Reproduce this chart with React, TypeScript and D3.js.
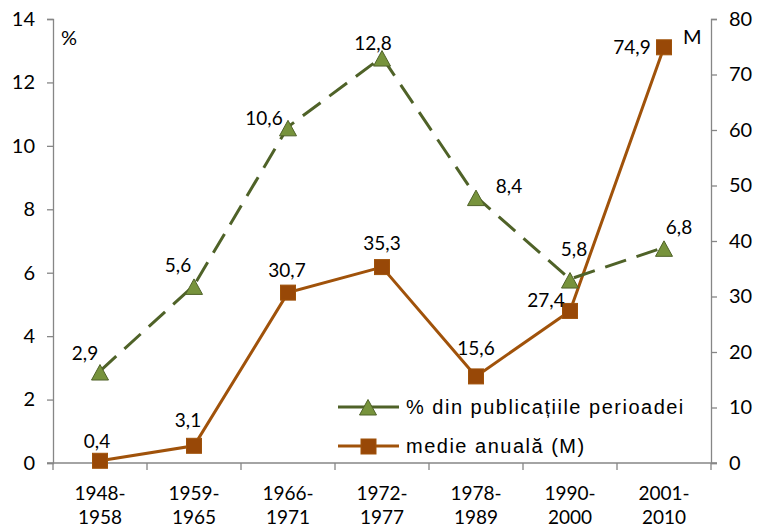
import React, { useEffect, useRef } from 'react';
import * as d3 from 'd3';

const periods = ['1948-1958', '1959-1965', '1966-1971', '1972-1977', '1978-1989', '1990-2000', '2001-2010'];
const percentValues = [2.9, 5.6, 10.6, 12.8, 8.4, 5.8, 6.8];
const annualValues = [0.4, 3.1, 30.7, 35.3, 15.6, 27.4, 74.9];
const leftTicks = [0, 2, 4, 6, 8, 10, 12, 14];
const rightTicks = [0, 10, 20, 30, 40, 50, 60, 70, 80];
const legendLabels = ['% din publicațiile perioadei', 'medie anuală  (M)'];

// label centre offsets relative to the marker [dx, dy]
const percentLabelPos: [number, number][] = [
  [-15, -18], [-16, -20], [-24, -8], [-9, -14], [33, -10], [4, -30], [15, -20],
];
const annualLabelPos: [number, number][] = [
  [-3, -19], [-6, -25], [-1, -22], [0, -24], [0, -28], [-24, -11], [-32, 0],
];

const GREEN_LINE = '#4F6228';
const GREEN_FILL = '#77933C';
const BROWN = '#A0520A';
const BROWN_FILL = '#984807';
const AXIS = '#868686';
const FONT = 'Lato, "Open Sans", sans-serif';

// triangle marker, roughly centred on its box
const TRI = 'M0,-7.5L8.5,8L-8.5,8Z';

const App: React.FC = () => {
  const svgRef = useRef<SVGSVGElement>(null);

  useEffect(() => {
    if (!svgRef.current) return;
    const svg = d3.select(svgRef.current);
    svg.selectAll('*').remove();

    const left = 53, right = 711, top = 19, bottom = 463;

    const x = d3.scaleBand().domain(periods).range([left, right]).padding(0);
    const yL = d3.scaleLinear().domain([0, 14]).range([bottom, top]);
    const yR = d3.scaleLinear().domain([0, 80]).range([bottom, top]);
    const cx = (i: number) => x(periods[i])! + x.bandwidth() / 2;

    // Left axis
    const gL = svg.append('g').attr('transform', `translate(${left},0)`)
      .call(d3.axisLeft(yL).tickValues(leftTicks).tickSize(6).tickSizeOuter(6).tickPadding(12).tickFormat(d => `${d}`));
    gL.selectAll('path,line').attr('stroke', AXIS).attr('stroke-width', 1.3);
    gL.selectAll('text').style('font-size', '20px').style('font-family', FONT).attr('fill', '#000');

    // Right axis
    const gR = svg.append('g').attr('transform', `translate(${right},0)`)
      .call(d3.axisRight(yR).tickValues(rightTicks).tickSize(6).tickSizeOuter(6).tickPadding(12));
    gR.selectAll('path,line').attr('stroke', AXIS).attr('stroke-width', 1.3);
    gR.selectAll('text').style('font-size', '20px').style('font-family', FONT).attr('fill', '#000');

    // Bottom axis with ticks at band boundaries
    svg.append('line').attr('x1', left - 6).attr('x2', right + 6).attr('y1', bottom).attr('y2', bottom)
      .attr('stroke', AXIS).attr('stroke-width', 1.3);
    const bounds = periods.map(p => x(p)!).concat([right]);
    svg.selectAll('.xtick').data(bounds).enter().append('line')
      .attr('x1', d => d).attr('x2', d => d).attr('y1', bottom).attr('y2', bottom + 7)
      .attr('stroke', AXIS).attr('stroke-width', 1.3);
    const xl = svg.selectAll('.xlab').data(periods).enter().append('text')
      .attr('x', (d, i) => cx(i)).attr('text-anchor', 'middle')
      .style('font-size', '19px').style('font-family', FONT).attr('fill', '#000');
    xl.append('tspan').attr('x', (d, i) => cx(i)).attr('y', 500).text(d => d.split('-')[0] + '-');
    xl.append('tspan').attr('x', (d, i) => cx(i)).attr('y', 524).text(d => d.split('-')[1]);

    // Axis unit labels
    svg.append('text').attr('x', 61).attr('y', 45).text('%')
      .style('font-size', '20px').style('font-family', FONT);
    svg.append('text').attr('x', 683).attr('y', 44).text('M')
      .style('font-size', '20px').style('font-family', FONT);

    // Annual line
    const annLine = d3.line<number>().x((d, i) => cx(i)).y(d => yR(d));
    svg.append('path').attr('d', annLine(annualValues)!).attr('fill', 'none')
      .attr('stroke', BROWN).attr('stroke-width', 3);

    // Percent line (dashed)
    const pctLine = d3.line<number>().x((d, i) => cx(i)).y(d => yL(d));
    svg.append('path').attr('d', pctLine(percentValues)!).attr('fill', 'none')
      .attr('stroke', GREEN_LINE).attr('stroke-width', 3).attr('stroke-dasharray', '22,11');

    const square = 15;

    svg.selectAll('.sq').data(annualValues).enter().append('rect')
      .attr('x', (d, i) => cx(i) - square / 2).attr('y', d => yR(d) - square / 2)
      .attr('width', square).attr('height', square)
      .attr('fill', BROWN_FILL).attr('stroke', BROWN).attr('stroke-width', 1);

    svg.selectAll('.tri').data(percentValues).enter().append('path')
      .attr('d', TRI)
      .attr('transform', (d, i) => `translate(${cx(i)},${yL(d) + 1})`)
      .attr('fill', GREEN_FILL).attr('stroke', GREEN_LINE).attr('stroke-width', 1);

    const fmt = (v: number) => v.toFixed(1).replace('.', ',');

    svg.selectAll('.plab').data(percentValues).enter().append('text')
      .attr('x', (d, i) => cx(i) + percentLabelPos[i][0])
      .attr('y', (d, i) => yL(d) + percentLabelPos[i][1])
      .attr('dy', '0.35em').attr('text-anchor', 'middle')
      .style('font-size', '19px').style('font-family', FONT).attr('fill', '#000')
      .text(d => fmt(d));

    svg.selectAll('.alab').data(annualValues).enter().append('text')
      .attr('x', (d, i) => cx(i) + annualLabelPos[i][0])
      .attr('y', (d, i) => yR(d) + annualLabelPos[i][1])
      .attr('dy', '0.35em').attr('text-anchor', 'middle')
      .style('font-size', '19px').style('font-family', FONT).attr('fill', '#000')
      .text(d => fmt(d));

    // Legend
    const lg = [
      { y: 407, color: GREEN_LINE, kind: 'tri' },
      { y: 446, color: BROWN, kind: 'sq' },
    ];
    lg.forEach((l, i) => {
      svg.append('line').attr('x1', 338).attr('x2', 399).attr('y1', l.y).attr('y2', l.y)
        .attr('stroke', l.color).attr('stroke-width', 3);
      if (l.kind === 'tri') {
        svg.append('path').attr('d', TRI).attr('transform', `translate(368,${l.y})`)
          .attr('fill', GREEN_FILL).attr('stroke', GREEN_LINE).attr('stroke-width', 1);
      } else {
        svg.append('rect').attr('x', 361).attr('y', l.y - 7).attr('width', 15).attr('height', 15)
          .attr('fill', BROWN_FILL).attr('stroke', BROWN);
      }
      svg.append('text').attr('x', 406).attr('y', l.y + 7).text(legendLabels[i])
        .style('font-size', '20px').style('letter-spacing', '1.5px')
        .style('font-family', '"Liberation Sans", Arial, sans-serif').attr('fill', '#000');
    });
  }, []);

  return (
    <svg ref={svgRef} width={760} height={530}
      style={{ position: 'absolute', left: 0, top: 0, background: '#fff' }} />
  );
};

export default App;
